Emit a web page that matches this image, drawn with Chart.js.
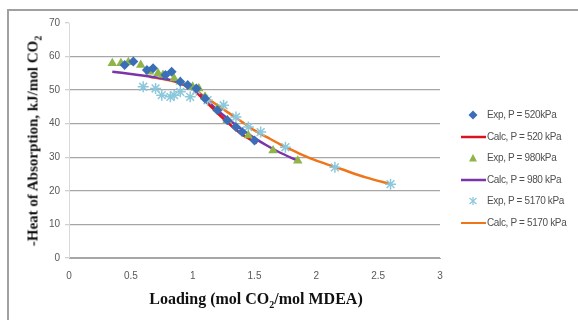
<!DOCTYPE html>
<html>
<head>
<meta charset="utf-8">
<script src="https://cdn.jsdelivr.net/npm/chart.js@4"></script>
<style>
  body { margin: 0; background: #fff; }
  #wrap { position: relative; width: 578px; height: 320px; overflow: hidden; }
  #frame { position: absolute; left: 7px; top: 9px; width: 600px; height: 400px;
           border-left: 2px solid #a0a0a0; border-top: 2px solid #a0a0a0; }
  canvas { position: absolute; left: 0; top: 0; }
  .axis-title { position: absolute; font-family: "Liberation Serif", serif; font-weight: bold; color: #111; white-space: nowrap; }
  #x-title { left: 256px; top: 300px; font-size: 16px; transform: translate(-50%, -50%); }
  #y-title { left: 34px; top: 141px; font-size: 15px; transform: translate(-50%, -50%) rotate(-90deg); }
  #legend { position: absolute; left: 460px; top: 106px; font-family: "Liberation Sans", sans-serif; font-size: 10px; color: #505050; }
  .item { position: relative; height: 21.6px; line-height: 18px; padding-left: 27px; letter-spacing: -0.35px; }
  .item svg { position: absolute; left: 0; top: 0; }
</style>
</head>
<body>
<div id="wrap">
  <div id="frame"></div>
  <canvas id="chart" width="578" height="320"></canvas>
  <div id="y-title" class="axis-title">-Heat of Absorption, kJ/mol CO<sub style="font-size:10px">2</sub></div>
  <div id="x-title" class="axis-title">Loading (mol CO<sub style="font-size:10px">2</sub>/mol MDEA)</div>
  <div id="legend"></div>
</div>
<script>
// Experimental points (loading, -heat of absorption)
const exp520X = [0.45, 0.52, 0.63, 0.68, 0.78, 0.83, 0.9, 0.96, 1.03, 1.1, 1.2, 1.28, 1.35, 1.4, 1.5];
const exp520Y = [57.5, 58.5, 56, 56.5, 54.5, 55.5, 52.5, 51.5, 50.5, 47.5, 44, 41, 39, 37.5, 35];

const exp980X = [0.35, 0.42, 0.48, 0.58, 0.65, 0.72, 0.76, 0.85, 0.9, 1.0, 1.05, 1.1, 1.2, 1.28, 1.45, 1.65, 1.85];
const exp980Y = [58, 58, 58.3, 57.5, 55.5, 55, 54.5, 53.5, 52.5, 51, 50.5, 48, 44.5, 41, 36.5, 32, 29];

const exp5170X = [0.6, 0.7, 0.75, 0.82, 0.85, 0.9, 0.98, 1.03, 1.12, 1.25, 1.35, 1.45, 1.55, 1.75, 2.15, 2.6];
const exp5170Y = [51, 50.5, 48.5, 48, 48.5, 49.5, 48, 50, 47, 45.5, 42, 39, 37.5, 33, 27, 22];

// Calculated curves
const calc520X = [0.9, 1.0, 1.1, 1.2, 1.3, 1.4, 1.52];
const calc520Y = [52, 50.3, 46.8, 43.2, 39.8, 36.8, 34.2];

const calc980X = [0.35, 0.5, 0.7, 0.85, 1.0, 1.1, 1.2, 1.3, 1.4, 1.5, 1.6, 1.7, 1.85];
const calc980Y = [55.5, 54.8, 53.8, 52.8, 50.5, 47.5, 44, 41, 38.2, 35.7, 33.5, 31.5, 29];

const calc5170X = [0.65, 0.8, 0.9, 1.0, 1.1, 1.2, 1.3, 1.4, 1.5, 1.6, 1.7, 1.8, 1.9, 2.0, 2.2, 2.4, 2.6];
const calc5170Y = [54, 53, 52, 50.5, 48, 45.5, 43, 40.5, 38, 36, 34, 32.2, 30.5, 29, 26.5, 24, 22];

const xTicks = [0, 0.5, 1, 1.5, 2, 2.5, 3];
const yTicks = [0, 10, 20, 30, 40, 50, 60, 70];

const legendLabels = ['Exp, P = 520kPa', 'Calc, P = 520 kPa', 'Exp, P = 980kPa',
  'Calc, P = 980 kPa', 'Exp, P = 5170 kPa', 'Calc, P = 5170 kPa'];

const colors = {
  exp520: '#3a6fb8',
  calc520: '#d8141c',
  exp980: '#8fb44a',
  calc980: '#7a35a8',
  exp5170: '#8cc8dc',
  calc5170: '#f07418',
};

function toPoints(xs, ys) {
  return xs.map((x, i) => ({ x: x, y: ys[i] }));
}

function scatterSet(label, xs, ys, color, style, radius) {
  return {
    type: 'scatter', label: label, data: toPoints(xs, ys),
    pointStyle: style, pointRadius: radius, borderWidth: style === 'star' ? 1.5 : 0,
    backgroundColor: color, borderColor: color, showLine: false,
  };
}

function lineSet(label, xs, ys, color) {
  return {
    type: 'line', label: label, data: toPoints(xs, ys),
    borderColor: color, borderWidth: 2.5, pointRadius: 0, tension: 0.3, fill: false,
  };
}

// draw order: calc lines under the markers, as in the original
const datasets = [
  lineSet(legendLabels[5], calc5170X, calc5170Y, colors.calc5170),
  lineSet(legendLabels[3], calc980X, calc980Y, colors.calc980),
  lineSet(legendLabels[1], calc520X, calc520Y, colors.calc520),
  scatterSet(legendLabels[4], exp5170X, exp5170Y, colors.exp5170, 'star', 5.5),
  scatterSet(legendLabels[2], exp980X, exp980Y, colors.exp980, 'triangle', 5.5),
  scatterSet(legendLabels[0], exp520X, exp520Y, colors.exp520, 'rectRot', 5),
];
datasets.forEach((d, i) => { d.order = datasets.length - i; });

new Chart(document.getElementById('chart'), {
  data: { datasets: datasets },
  options: {
    responsive: false,
    animation: false,
    layout: { padding: { top: 23, right: 138, left: 0, bottom: 0 } },
    plugins: { legend: { display: false }, tooltip: { enabled: false } },
    scales: {
      x: {
        type: 'linear', min: 0, max: 3,
        afterBuildTicks: (scale) => { scale.ticks = xTicks.map((v) => ({ value: v })); },
        afterFit: (scale) => { scale.height = 62; },
        grid: { display: false, drawTicks: false },
        border: { color: '#a6a6a6', width: 1 },
        ticks: { color: '#595959', font: { family: 'Liberation Sans', size: 10 }, padding: 12,
                 callback: (v) => String(v) },
      },
      y: {
        type: 'linear', min: 0, max: 70,
        afterBuildTicks: (scale) => { scale.ticks = yTicks.map((v) => ({ value: v })); },
        afterFit: (scale) => { scale.width = 69; },
        grid: {
          color: (ctx) => (ctx.tick && ctx.tick.value === 70 ? 'rgba(0,0,0,0)' : '#a6a6a6'),
          tickColor: '#d0d0d0', tickLength: 4, lineWidth: 1.3,
        },
        border: { color: '#d9d9d9', width: 1 },
        ticks: { color: '#595959', font: { family: 'Liberation Sans', size: 10 }, padding: 5 },
      },
    },
  },
});

// Legend (same order as the original)
const legendEl = document.getElementById('legend');
const legendMarks = [
  '<path d="M13 4.5 L17.5 9 L13 13.5 L8.5 9 Z" fill="' + colors.exp520 + '"/>',
  '<line x1="1" y1="9" x2="26" y2="9" stroke="' + colors.calc520 + '" stroke-width="2.5"/>',
  '<path d="M13 5 L17 12.5 L9 12.5 Z" fill="' + colors.exp980 + '"/>',
  '<line x1="1" y1="9" x2="26" y2="9" stroke="' + colors.calc980 + '" stroke-width="2.5"/>',
  '<g stroke="' + colors.exp5170 + '" stroke-width="1.3"><line x1="13" y1="5" x2="13" y2="13"/><line x1="9.5" y1="6" x2="16.5" y2="12"/><line x1="16.5" y1="6" x2="9.5" y2="12"/></g>',
  '<line x1="1" y1="9" x2="26" y2="9" stroke="' + colors.calc5170 + '" stroke-width="2"/>',
];
legendLabels.forEach((label, i) => {
  const item = document.createElement('div');
  item.className = 'item';
  item.innerHTML = '<svg width="27" height="18">' + legendMarks[i] + '</svg>' + label;
  legendEl.appendChild(item);
});
</script>
</body>
</html>
